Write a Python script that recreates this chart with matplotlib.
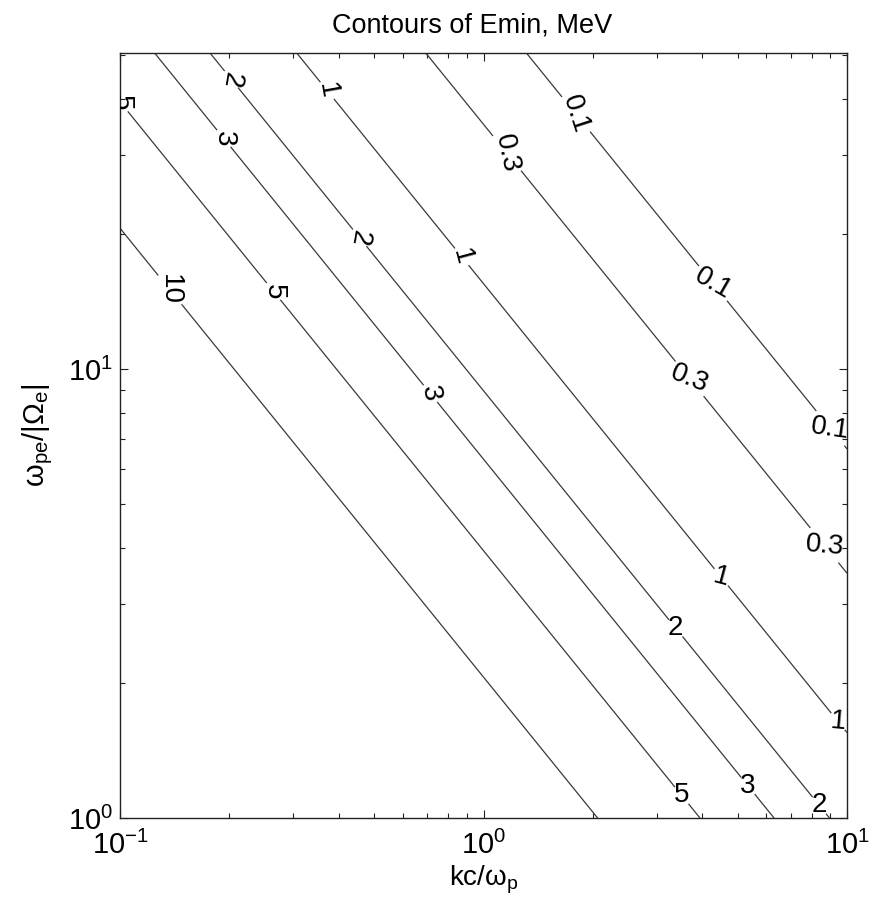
import numpy as np
import matplotlib.pyplot as plt

plt.rcParams['font.family'] = ['Liberation Sans', 'DejaVu Sans']
plt.rcParams['mathtext.fontset'] = 'custom'
plt.rcParams['mathtext.rm'] = 'Liberation Sans'
plt.rcParams['mathtext.it'] = 'Liberation Sans:italic'
plt.rcParams['mathtext.default'] = 'regular'
plt.rcParams['axes.unicode_minus'] = False

# Emin levels (MeV) and the value of (kc/wp)*(wpe/|Oe|) along each contour
energy = [10, 5, 3, 2, 1, 0.3, 0.1]
product = [2.06, 3.94, 6.3, 8.95, 15.5, 35.1, 66.4]

# where the labels go on each contour (kc/wp, wpe/|Oe|) and their angle
label_spots = {
    0.1: [(1.785, 36.8), (4.06, 15.0), (8.87, 7.31)],
    0.3: [(1.146, 30.0), (3.65, 9.45), (8.53, 4.01)],
    1:   [(0.359, 40.8), (0.835, 17.3), (4.47, 3.42), (9.44, 1.64)],
    2:   [(0.201, 44.0), (0.449, 19.4), (3.385, 2.65), (8.43, 1.07)],
    3:   [(0.191, 32.4), (0.690, 8.62), (5.34, 1.18)],
    5:   [(0.1005, 39.1), (0.262, 14.8), (3.47, 1.114)],
    10:  [(0.137, 15.0)],
}
label_rot = {
    0.1: [-72, -30, -8],
    0.3: [-78, -22, -5],
    1:   [-80, -75, -15, -5],
    2:   [-100, -100, 0, 0],
    3:   [-90, -80, 0],
    5:   [-90, -90, 0],
    10:  [-90],
}

kc = np.logspace(-1, 1, 500)
wr = np.logspace(0, np.log10(50.6), 500)
X, Y = np.meshgrid(kc, wr)
Z = X * Y

fig = plt.figure(figsize=(8.73, 9.01), dpi=100)
ax = fig.add_axes([120 / 873, 1 - 818 / 901, 727 / 873, 765 / 901])

cs = ax.contour(X, Y, Z, levels=product, colors='#3a3a3a', linewidths=0.9)

names = {p: f'{e:g}' for p, e in zip(product, energy)}

manual = []
rots = []
for e in energy:
    manual += label_spots[e]
    rots += label_rot[e]

ax.set_xscale('log')
ax.set_yscale('log')
ax.set_xlim(0.1, 10)
ax.set_ylim(1, 50.6)

txts = cs.clabel(fmt=lambda v: names[min(names, key=lambda p: abs(p - v))],
                 manual=manual, inline=True, inline_spacing=3, fontsize=20)
for t, r in zip(txts, rots):
    t.set_rotation(r)
    t.set_color('black')
    t.set_clip_on(True)

ax.tick_params(which='both', direction='in', top=True, right=True,
               labelsize=21, width=0.8, color='#222222')
ax.tick_params(which='major', length=6)
ax.tick_params(which='minor', length=3.5)
ax.tick_params(axis='x', which='major', pad=9)
ax.tick_params(axis='y', which='major', pad=5)
for s in ax.spines.values():
    s.set_linewidth(1.0)
    s.set_color('#222222')

ax.set_xlabel(r'kc/ω$_{p}$', fontsize=20)
ax.xaxis.set_label_coords(0.5, -0.060)
ax.set_ylabel(r'ω$_{pe}$/|Ω$_{e}$|', fontsize=21)
ax.yaxis.set_label_coords(-0.09, 0.5)

fig.text(472 / 873, 1 - 32 / 901, 'Contours of Emin, MeV', fontsize=19.5,
         ha='center', va='baseline')

fig.savefig('out.png', dpi=100)
